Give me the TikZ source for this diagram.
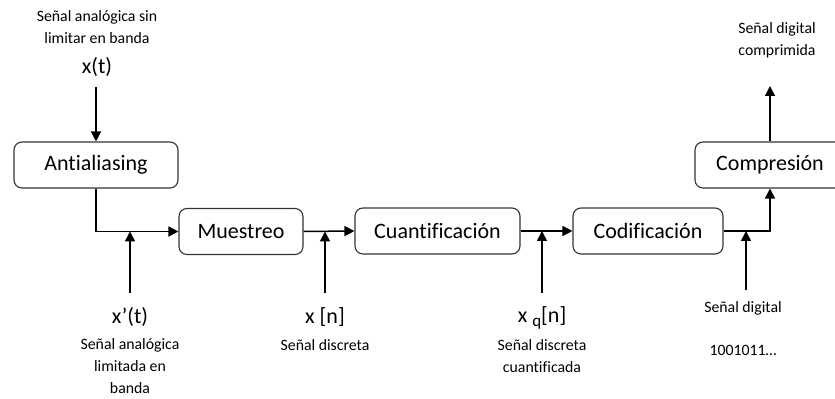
\documentclass[tikz,border=0pt]{standalone}
\usepackage{fontspec}
\setmainfont{Carlito}[Ligatures=CommonOff]
\usetikzlibrary{arrows.meta}

\begin{document}
\begin{tikzpicture}[x=0.5pt,y=-0.5pt,
  blockbox/.style={draw=black!80,line width=0.55pt,rounded corners=4pt,
    minimum height=23pt,inner sep=0pt,font=\fontsize{11}{13}\selectfont},
  flow/.style={line width=0.75pt,-{Triangle[length=5pt,width=5pt]}},
  sig/.style={font=\fontsize{11}{13}\selectfont,inner sep=0pt},
  note/.style={font=\fontsize{7.9}{11.2}\selectfont,align=center,inner sep=0pt}]

  \useasboundingbox (0,0) rectangle (835,399);
  \clip (0,0) rectangle (835,399);

  % processing blocks
  \node[blockbox,minimum width=82pt]   (anti) at (96,165)    {Antialiasing};
  \node[blockbox,minimum width=62pt]   (mues) at (241,231.5) {Muestreo};
  \node[blockbox,minimum width=82.5pt] (cuan) at (437.5,231) {Cuantificación};
  \node[blockbox,minimum width=75pt]   (codi) at (648,231)   {Codificación};
  \node[blockbox,minimum width=75pt]   (comp) at (770,165)   {Compresión};

  % free ends of the connectors
  \coordinate (xin)  at (96,87);
  \coordinate (xout) at (770,86);
  \coordinate (t1) at (130,293);
  \coordinate (t2) at (325,293);
  \coordinate (t3) at (542,293);
  \coordinate (t4) at (746,290);

  % signal path
  \draw[flow] (xin) -- (anti);
  \draw[flow] (anti.south) |- (mues.west);
  \draw[flow] (mues.east) -- (cuan.west);
  \draw[flow] (cuan.east) -- (codi.west);
  \draw[flow] (codi.east) -| (comp.south);
  \draw[flow] (comp.north) -- (xout);

  % taps pointing at the intermediate signals
  \draw[flow] (t1) -- (t1 |- mues.west);
  \draw[flow] (t2) -- (t2 |- mues.east);
  \draw[flow] (t3) -- (t3 |- codi.west);
  \draw[flow] (t4) -- (t4 |- codi.east);

  % input and output labels
  \node[note] (lin)  at (97,27)  {Señal analógica sin\\limitar en banda};
  \node[sig]  (sxt)  at (97,67)  {x(t)};
  \node[note] (lout) at (777,40) {Señal digital\\comprimida};

  % labels under the taps
  \node[sig]  (sx1) at (130,317) {x’(t)};
  \node[note] (l1)  at (130,366) {Señal analógica\\limitada en\\banda};
  \node[sig]  (sx2) at (325,317) {x [n]};
  \node[note] (l2)  at (325,345) {Señal discreta};
  \node[sig]  (sx3) at (542,318) {x \raisebox{-0.45ex}{\fontsize{8.5}{9}\selectfont q}[n]};
  \node[note] (l3)  at (542,356) {Señal discreta\\cuantificada};
  \node[note] (l4)  at (743,308) {Señal digital};
  \node[note] (l5)  at (743,350) {1001011…};
\end{tikzpicture}
\end{document}
